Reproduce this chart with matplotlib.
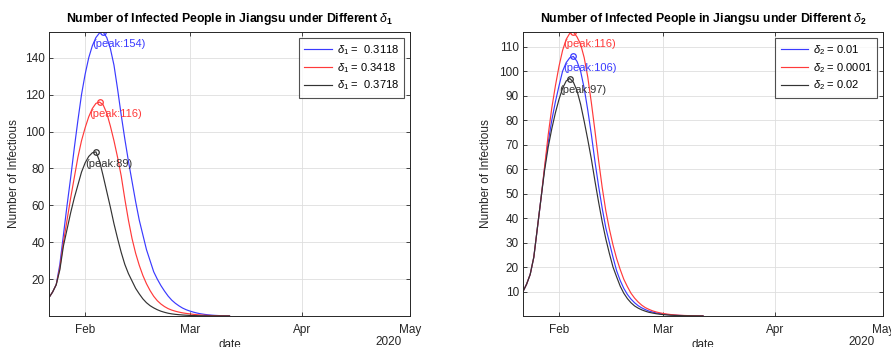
import matplotlib
matplotlib.use('Agg')
import matplotlib.pyplot as plt
import numpy as np

plt.rcParams['font.family'] = ['Liberation Sans', 'DejaVu Sans']
plt.rcParams['mathtext.fontset'] = 'custom'
plt.rcParams['mathtext.it'] = 'Liberation Sans:italic'
plt.rcParams['mathtext.bf'] = 'Liberation Sans:bold'
plt.rcParams['mathtext.rm'] = 'Liberation Sans'

# daily values from 2020-01-22
start_date = '2020-01-22'

# left: different delta_1
left_labels = [r'$\delta_1$ =  0.3118', r'$\delta_1$ = 0.3418', r'$\delta_1$ =  0.3718']
left_blue = [10, 13, 17, 28, 44, 60, 75, 91, 106, 120, 131, 140, 146.5, 151, 153.5, 154, 151, 145, 136, 123,
             109, 96, 84, 73, 62, 52, 44, 36, 30, 24, 20, 16.5, 13.5, 10.8, 8.6, 6.9, 5.5, 4.3, 3.4, 2.7,
             2.1, 1.6, 1.2, 0.9, 0.65, 0.47, 0.33, 0.23, 0.16, 0.11, 0.07]
left_red = [10, 13, 17, 26, 40, 52, 64, 75, 86, 95, 102, 108, 112.5, 115.3, 116, 114.5, 110, 103, 95, 86,
            76, 63.5, 52, 42, 34, 27.5, 22, 17.5, 13.8, 10.7, 8.3, 6.5, 5.1, 4, 3.2, 2.6, 2.1, 1.7, 1.4, 1.15,
            0.9, 0.7, 0.55, 0.42, 0.32, 0.24, 0.18, 0.13, 0.1, 0.07, 0.05]
left_black = [10, 13, 17, 25, 38, 47, 56, 64, 71, 78, 83, 86.5, 88.5, 89, 84, 76, 67.5, 59, 50, 42,
              34.5, 28, 23, 19, 15, 12, 9.3, 7.2, 5.6, 4.4, 3.4, 2.6, 2, 1.5, 1.15, 0.9, 0.7, 0.55, 0.42, 0.32,
              0.24, 0.18, 0.13, 0.1, 0.07, 0.05, 0.04, 0.03, 0.02, 0.015, 0.01]

# right: different delta_2
right_labels = [r'$\delta_2$ = 0.01', r'$\delta_2$ = 0.0001', r'$\delta_2$ = 0.02']
right_blue = [10, 13, 17, 24, 36, 48, 60.5, 71, 80, 87.5, 94, 100, 103.5, 105.5, 106, 104, 100, 93, 84, 74,
              63, 53, 44, 36, 30, 24, 18.5, 14.5, 11.3, 8.8, 6.9, 5.4, 4.2, 3.3, 2.6, 2.0, 1.6, 1.25, 1.0, 0.78,
              0.6, 0.46, 0.35, 0.27, 0.2, 0.15, 0.11, 0.08, 0.06, 0.045, 0.03]
right_red = [10, 13, 17, 24, 36, 48, 61, 74, 85, 94, 102, 108.5, 113, 115.5, 116, 114, 111, 105.5, 97.5, 87,
             75.5, 63.5, 52.5, 43, 35.5, 29, 23.5, 19, 15, 12, 9.3, 7.3, 5.7, 4.4, 3.4, 2.7, 2.1, 1.65, 1.3, 1.0,
             0.78, 0.6, 0.46, 0.35, 0.27, 0.2, 0.15, 0.11, 0.08, 0.06, 0.04]
right_black = [10, 13, 17, 24, 36, 48, 59.5, 69, 76.5, 83, 88.5, 93, 96, 97, 95.5, 92, 86.5, 79.5, 72, 64,
               55, 46.5, 38.5, 31.5, 25.5, 20, 16, 12.2, 9.3, 7.1, 5.4, 4.1, 3.2, 2.5, 1.95, 1.5, 1.2, 0.93, 0.72, 0.56,
               0.43, 0.33, 0.25, 0.19, 0.14, 0.1, 0.08, 0.06, 0.04, 0.03, 0.02]

titles = [r'Number of Infected People in Jiangsu under Different $\delta_\mathbf{1}$',
          r'Number of Infected People in Jiangsu under Different $\delta_\mathbf{2}$']
month_ticks = ['2020-02-01', '2020-03-01', '2020-04-01', '2020-05-01']
month_names = ['Feb', 'Mar', 'Apr', 'May']
ylims = [154, 116]
yticks = [np.arange(20, 141, 20), np.arange(10, 111, 10)]

colors = ['#3a3aff', '#ff3a3a', '#333333']
axcol = '#262626'

fig = plt.figure(figsize=(8.91, 3.47), dpi=100)
ax1 = fig.add_axes([49 / 891, 31 / 347, 361 / 891, 284 / 347])
ax2 = fig.add_axes([523 / 891, 31 / 347, 360 / 891, 284 / 347])

panels = [
    (ax1, [left_blue, left_red, left_black], left_labels, -0.08),
    (ax2, [right_blue, right_red, right_black], right_labels, -0.085),
]

for i, (ax, series, labels, ylab_x) in enumerate(panels):
    for vals, c, lab in zip(series, colors, labels):
        vals = np.array(vals, dtype=float)
        dates = np.datetime64(start_date) + np.arange(len(vals))
        ax.plot(dates, vals, color=c, lw=0.85, label=lab)
        k = int(np.argmax(vals))
        ax.plot(dates[k], vals[k], 'o', mfc='none', mec=c, ms=4, mew=0.9)
        ax.annotate('(peak:%d)' % round(vals[k]), (dates[k], vals[k]), xytext=(-7.5, -8.5),
                    textcoords='offset points', color=c, fontsize=8, ha='left', va='center')

    ax.set_xlim(np.datetime64(start_date), np.datetime64('2020-05-01'))
    ax.set_ylim(0, ylims[i])
    ax.set_xticks([np.datetime64(d) for d in month_ticks])
    ax.set_xticklabels(month_names)
    ax.set_yticks(yticks[i])
    ax.grid(True, color='#dedede', lw=0.6)
    ax.set_axisbelow(True)
    ax.tick_params(direction='in', top=True, right=True, labelsize=8.5, colors=axcol,
                   length=3, width=0.6)
    ax.tick_params(axis='x', pad=6)
    ax.tick_params(axis='y', pad=3)
    for s in ax.spines.values():
        s.set_color(axcol)
        s.set_linewidth(0.7)
    ax.set_title(titles[i], fontsize=8.8, fontweight='bold', pad=7)
    ax.set_ylabel('Number of Infectious', fontsize=8.5, color=axcol)
    ax.yaxis.set_label_coords(ylab_x, 0.5)
    ax.annotate('date', (0.5, 0), xycoords='axes fraction', xytext=(0, -21),
                textcoords='offset points', ha='center', va='center', fontsize=8.5, color=axcol)
    ax.annotate('2020', (1, 0), xycoords='axes fraction', xytext=(-6, -18.5),
                textcoords='offset points', ha='right', va='center', fontsize=8.5, color=axcol)
    leg = ax.legend(loc='upper right', fontsize=8, frameon=True, fancybox=False,
                    edgecolor=axcol, handlelength=2.5, handletextpad=0.4,
                    borderaxespad=0.5, labelspacing=0.35, borderpad=0.5)
    leg.get_frame().set_linewidth(0.8)

fig.savefig('out.png', dpi=100)
